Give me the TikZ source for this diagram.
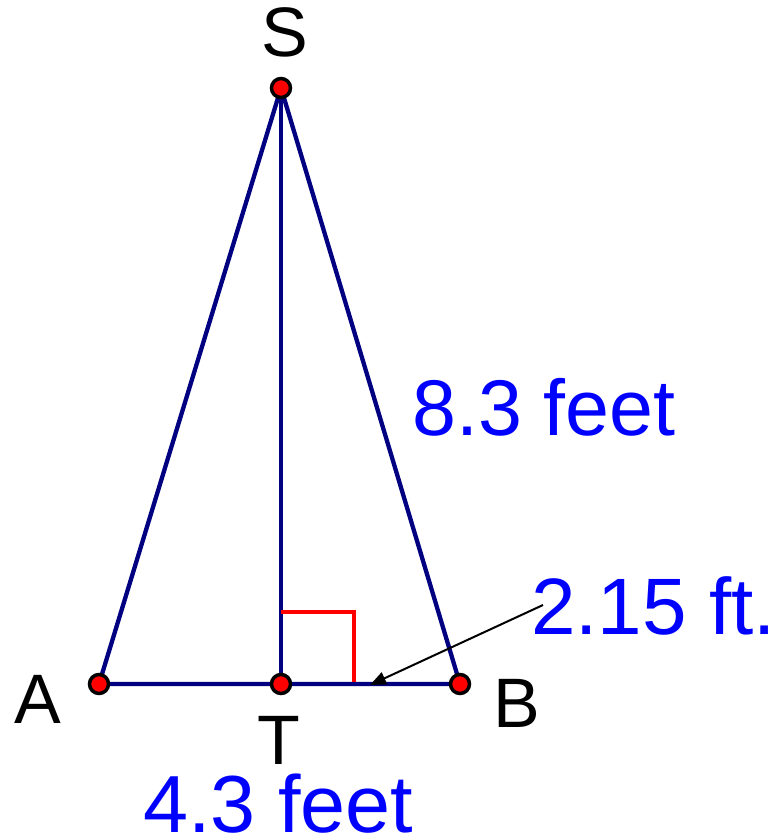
\documentclass[tikz,border=0pt]{standalone}
\usepackage{fontspec}
\setmainfont{Liberation Sans}
\usetikzlibrary{arrows.meta}
\definecolor{navyline}{RGB}{0,0,128}
\definecolor{labelblue}{RGB}{0,0,255}
\tikzset{
  pt/.style={circle,draw=black,fill=red,line width=3.5pt,minimum size=19pt,inner sep=0pt},
  side/.style={draw=navyline,line width=4.3pt},
  vlabel/.style={inner sep=0pt,anchor=base,font=\fontsize{70}{70}\selectfont},
  mlabel/.style={inner sep=0pt,anchor=base west,text=labelblue},
}
\begin{document}
\begin{tikzpicture}[x=1pt,y=-1pt]
\useasboundingbox (0,0) rectangle (781,837);
\coordinate (S) at (281,88);
\coordinate (A) at (99,684);
\coordinate (T) at (281,684);
\coordinate (B) at (460,684);
\draw[side] (A) -- (S) -- (B) -- cycle;
\draw[side] (S) -- (T);
\coordinate (r1) at (281,612);
\coordinate (r2) at (354,612);
\coordinate (r3) at (354,684);
\draw[red,line width=3.5pt] (r1) -- (r2) -- (r3);
\draw[side,line cap=butt] (A) -- (B);
\coordinate (arrS) at (543,605);
\coordinate (arrE) at (370,685);
\draw[black,line width=2pt,-{Triangle[length=16pt,width=13pt]}] (arrS) -- (arrE);
\node[pt] (pS) at (S) {};
\node[pt] (pA) at (A) {};
\node[pt] (pT) at (T) {};
\node[pt] (pB) at (B) {};
\node[vlabel] (lS) at (285,57) {S};
\node[vlabel] (lA) at (38,723) {A};
\node[vlabel] (lT) at (279,764) {T};
\node[vlabel] (lB) at (517,727) {B};
\node[mlabel,font=\fontsize{79}{79}\selectfont] (l83) at (412,435) {8.3 feet};
\node[mlabel,font=\fontsize{80}{80}\selectfont] (l215) at (531,634) {2.15 ft.};
\node[mlabel,font=\fontsize{81}{81}\selectfont] (l43) at (143,832) {4.3 feet};
\end{tikzpicture}
\end{document}
